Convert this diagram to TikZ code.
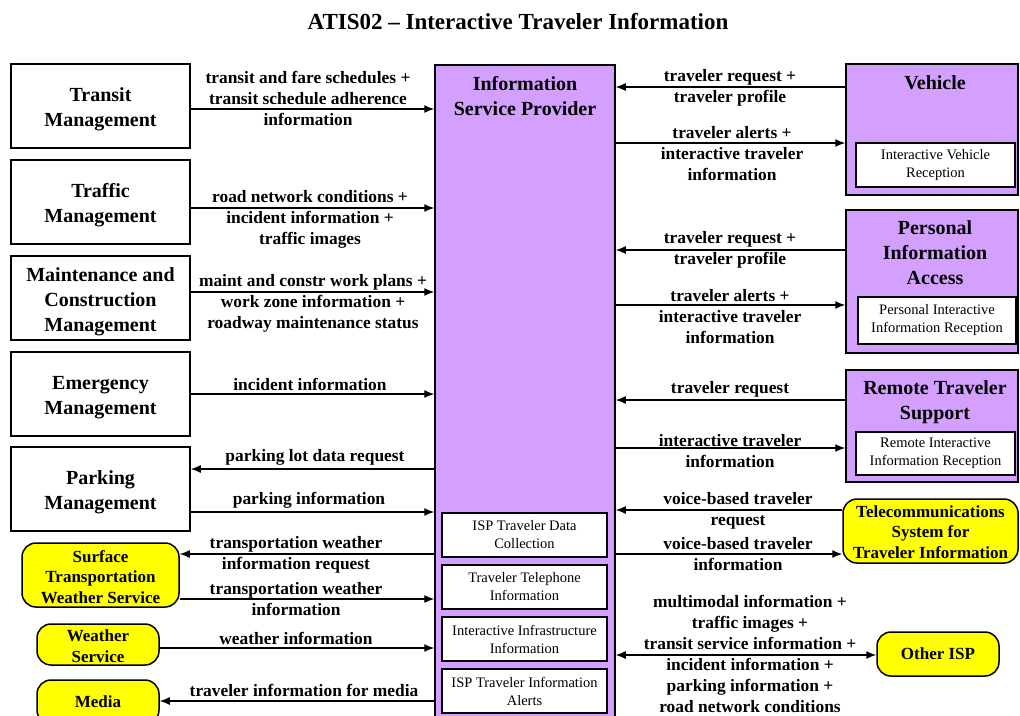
\documentclass[tikz,border=0pt]{standalone}
\usepackage{fontspec}
\setmainfont{Liberation Serif}
\usetikzlibrary{arrows.meta}
\definecolor{ispurple}{RGB}{212,160,255}
\definecolor{extyellow}{RGB}{255,255,0}

\begin{document}
\begin{tikzpicture}[x=1pt,y=-1pt,
  term/.style={draw,line width=1.5pt,fill=white,inner sep=0pt},
  purplebox/.style={draw,line width=1.5pt,fill=ispurple,inner sep=0pt},
  boxtitle/.style={align=center,inner sep=0pt,font=\fontsize{20}{25}\selectfont\bfseries},
  subbox/.style={draw,line width=1.3pt,fill=white,align=center,inner sep=1pt,
    font=\fontsize{14.5}{18}\selectfont},
  ext/.style={draw,line width=1.5pt,fill=extyellow,rounded corners=14pt,align=center,
    inner sep=1pt,font=\fontsize{17}{20.5}\selectfont\bfseries},
  exttitle/.style={align=center,inner sep=0pt,font=\fontsize{17}{20.5}\selectfont\bfseries},
  flowlabel/.style={align=center,inner sep=0pt,font=\fontsize{17.4}{21}\selectfont\bfseries},
  flow/.style={line width=1.3pt,-{Latex[length=10pt,width=8pt]}},
  bothflow/.style={line width=1.3pt,{Latex[length=10pt,width=8pt]}-{Latex[length=10pt,width=8pt]}},
]
\useasboundingbox (0,0) rectangle (1020,715);
\clip (0,0) rectangle (1020,715);

% title
\node[font=\fontsize{23}{28}\selectfont\bfseries,inner sep=0pt] (title) at (518,22)
  {ATIS02 -- Interactive Traveler Information};

% central subsystem
\node[purplebox,minimum width=180pt,minimum height=690pt,anchor=north] (isp) at (525,64) {};
\node[boxtitle] (isptitle) at (525,96) {Information\\Service Provider};
\node[subbox,minimum width=165pt,minimum height=44pt] (ispdata) at (524.5,535) {ISP Traveler Data\\Collection};
\node[subbox,minimum width=165pt,minimum height=44pt] (isptel) at (524.5,587) {Traveler Telephone\\Information};
\node[subbox,minimum width=165pt,minimum height=44pt] (ispinfra) at (524.5,639) {Interactive Infrastructure\\Information};
\node[subbox,minimum width=165pt,minimum height=44pt] (ispalert) at (524.5,691) {ISP Traveler Information\\Alerts};

% left subsystems
\node[term,minimum width=179pt,minimum height=84pt] (transit) at (100.5,106) {};
\node[boxtitle] (transittitle) at (100.5,109.5) {Transit\\Management};
\node[term,minimum width=179pt,minimum height=84pt] (traffic) at (100.5,202) {};
\node[boxtitle] (traffictitle) at (100.5,205.5) {Traffic\\Management};
\node[term,minimum width=179pt,minimum height=84pt] (maint) at (100.5,298) {};
\node[boxtitle] (mainttitle) at (100.5,301.5) {Maintenance and\\Construction\\Management};
\node[term,minimum width=179pt,minimum height=84pt] (emerg) at (100.5,394) {};
\node[boxtitle] (emergtitle) at (100.5,397.5) {Emergency\\Management};
\node[term,minimum width=179pt,minimum height=84pt] (parking) at (100.5,489) {};
\node[boxtitle] (parkingtitle) at (100.5,492) {Parking\\Management};

% left terminators
\node[ext,minimum width=157pt,minimum height=64pt] (surface) at (100.5,575) {};
\node[exttitle] (surfacetitle) at (100.5,577) {Surface\\Transportation\\Weather Service};
\node[ext,minimum width=122pt,minimum height=41pt] (weather) at (98,644.5) {};
\node[exttitle] (weathertitle) at (98,646) {Weather\\Service};
\node[ext,minimum width=122pt,minimum height=44pt] (media) at (98,702) {Media};

% right subsystems
\node[purplebox,minimum width=172pt,minimum height=131pt] (vehicle) at (932,129.5) {};
\node[boxtitle] (vehtitle) at (935,83) {Vehicle};
\node[subbox,minimum width=159pt,minimum height=44pt] (vehrec) at (935.5,165) {Interactive Vehicle\\Reception};

\node[purplebox,minimum width=172pt,minimum height=143pt] (pia) at (932,281.5) {};
\node[boxtitle] (piatitle) at (935,253) {Personal\\Information\\Access};
\node[subbox,minimum width=158pt,minimum height=47pt] (piarec) at (937,320.5) {Personal Interactive\\Information Reception};

\node[purplebox,minimum width=172pt,minimum height=112pt] (rts) at (932,426) {};
\node[boxtitle] (rtstitle) at (935,402) {Remote Traveler\\Support};
\node[subbox,minimum width=159pt,minimum height=43pt] (rtsrec) at (935.5,453.5) {Remote Interactive\\Information Reception};

% right terminators
\node[ext,minimum width=175pt,minimum height=64pt] (telecom) at (930.5,531) {};
\node[exttitle] (telecomtitle) at (930.5,532) {Telecommunications\\System for\\Traveler Information};
\node[ext,minimum width=122pt,minimum height=44pt] (otherisp) at (938,654) {Other ISP};

% left flows
\draw[flow] (transit.east |- 0,109) -- (isp.west |- 0,109);
\node[flowlabel] (l1) at (308,98) {transit and fare schedules +\\transit schedule adherence\\information};
\draw[flow] (traffic.east |- 0,208) -- (isp.west |- 0,208);
\node[flowlabel] (l2) at (310,219.5) {road network conditions +\\incident information +\\traffic images};
\draw[flow] (maint.east |- 0,292) -- (isp.west |- 0,292);
\node[flowlabel] (l3) at (313,303.5) {maint and constr work plans +\\work zone information +\\roadway maintenance status};
\draw[flow] (emerg.east |- 0,394) -- (isp.west |- 0,394);
\node[flowlabel] (l4) at (310,384) {incident information};
\draw[flow] (isp.west |- 0,469) -- (parking.east |- 0,469);
\node[flowlabel] (l5) at (315,457) {parking lot data request};
\draw[flow] (parking.east |- 0,512) -- (isp.west |- 0,512);
\node[flowlabel] (l6) at (309,500) {parking information};
\draw[flow] (isp.west |- 0,554) -- (surface.east |- 0,554);
\node[flowlabel] (l7) at (296,554.5) {transportation weather\\information request};
\draw[flow] (surface.east |- 0,599) -- (isp.west |- 0,599);
\node[flowlabel] (l8) at (296,599) {transportation weather\\information};
\draw[flow] (weather.east |- 0,648) -- (isp.west |- 0,648);
\node[flowlabel] (l9) at (296,638) {weather information};
\draw[flow] (isp.west |- 0,701) -- (media.east |- 0,701);
\node[flowlabel] (l10) at (304,690) {traveler information for media};

% right flows
\draw[flow] (vehicle.west |- 0,87) -- (isp.east |- 0,87);
\node[flowlabel] (r1) at (730,87.5) {traveler request +\\traveler profile};
\draw[flow] (isp.east |- 0,143) -- (vehicle.west |- 0,143);
\node[flowlabel] (r2) at (732,154) {traveler alerts +\\interactive traveler\\information};
\draw[flow] (pia.west |- 0,250) -- (isp.east |- 0,250);
\node[flowlabel] (r3) at (730,250) {traveler request +\\traveler profile};
\draw[flow] (isp.east |- 0,305) -- (pia.west |- 0,305);
\node[flowlabel] (r4) at (730,317) {traveler alerts +\\interactive traveler\\information};
\draw[flow] (rts.west |- 0,400) -- (isp.east |- 0,400);
\node[flowlabel] (r5) at (730,389) {traveler request};
\draw[flow] (isp.east |- 0,448) -- (rts.west |- 0,448);
\node[flowlabel] (r6) at (730,451.5) {interactive traveler\\information};
\draw[flow] (telecom.west |- 0,510) -- (isp.east |- 0,510);
\node[flowlabel] (r7) at (738,511) {voice-based traveler\\request};
\draw[flow] (isp.east |- 0,554) -- (telecom.west |- 0,554);
\node[flowlabel] (r8) at (738,554.5) {voice-based traveler\\information};
\draw[bothflow] (isp.east |- 0,655) -- (otherisp.west |- 0,655);
\node[flowlabel] (r9) at (750,653.5) {multimodal information +\\traffic images +\\transit service information +\\incident information +\\parking information +\\road network conditions};
\end{tikzpicture}
\end{document}
